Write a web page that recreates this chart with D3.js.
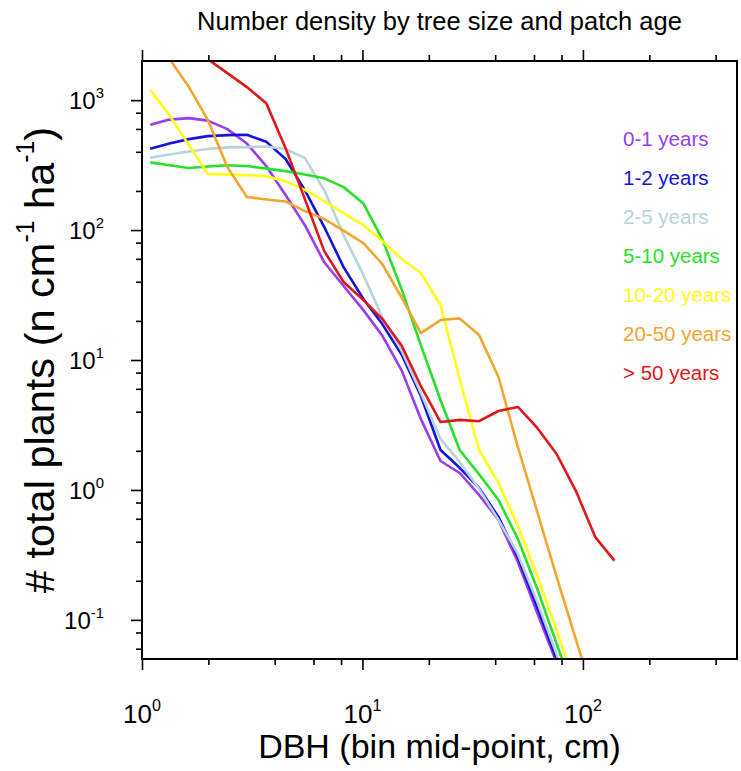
<!DOCTYPE html>
<html>
<head>
<meta charset="utf-8">
<script src="https://cdn.jsdelivr.net/npm/d3@7"></script>
<style>
  html, body { margin: 0; padding: 0; background: #fff; }
  svg { display: block; font-family: "Liberation Sans", Arial, Helvetica, sans-serif; }
</style>
</head>
<body>
<svg id="chart" width="741" height="771"></svg>
<script>
// DBH bin mid-points (cm)
const dbh = [1.09, 1.33, 1.63, 1.99, 2.44, 2.99, 3.66, 4.48, 5.48, 6.71, 8.21, 10.1, 12.3,
             15.1, 18.4, 22.6, 27.6, 33.8, 41.4, 50.7, 62.1, 76.0, 93.0, 114, 139];

// number density per patch-age class (n cm-1 ha-1)
const age0_1  = [646, 708, 727, 695, 598, 463, 311, 186, 109, 56.5, 37.1, 24.2, 15.4, 8.23, 3.52, 1.67, 1.35, 0.915, 0.588, 0.279, 0.113, 0.0467, null, null, null];
const age1_2  = [422, 463, 501, 528, 538, 541, 479, 352, 203, 105.5, 51.9, 29.5, 18.9, 10.9, 5.28, 2.03, 1.48, 1.036, 0.620, 0.305, 0.125, 0.050, null, null, null];
const age2_5  = [360, 382, 402, 420, 433, 435, 439, 420, 358, 203, 91.6, 45.1, 21.4, 11.7, 5.57, 2.47, 1.64, 1.02, 0.588, 0.322, 0.138, 0.0543, 0.0214, null, null];
const age5_10 = [332, 315, 300, 308, 315, 311, 297, 284, 268, 250, 214, 160, 85.3, 34.5, 13.0, 4.92, 2.03, 1.32, 0.838, 0.420, 0.173, 0.0654, 0.0247, null, null];
const age10_20 = [1194, 767, 451, 270, 267, 264, 260, 238, 204, 167, 135, 109, 82.3, 59.8, 46.7, 26.5, 7.14, 2.03, 1.13, 0.529, 0.218, 0.083, 0.0316, null, null];
const age20_50 = [3516, 2085, 1265, 702, 305, 179.5, 172, 166, 140, 121.5, 99.1, 79.4, 54.8, 30, 16.1, 20.3, 20.9, 15.6, 7.40, 2.14, 0.677, 0.214, 0.0704, 0.0234, null];
const age50p  = [null, null, 2698, 2066, 1614, 1259, 948, 427, 173, 68.9, 39.8, 28.9, 20.7, 12.8, 6.31, 3.33, 3.46, 3.38, 4.05, 4.35, 3.0, 1.89, 0.98, 0.431, 0.286];

const seriesNames = ["0-1 years", "1-2 years", "2-5 years", "5-10 years", "10-20 years", "20-50 years", "> 50 years"];
const seriesValues = [age0_1, age1_2, age2_5, age5_10, age10_20, age20_50, age50p];
const seriesColors = ["#9a3cf0", "#1414dc", "#b6d4dc", "#28e028", "#ffff14", "#f2a62e", "#e01818"];

const xMajor = [1, 10, 100];
const xMinor = [2, 4, 6, 8, 20, 40, 60, 80, 200, 400];
const yMajor = [0.1, 1, 10, 100, 1000];
const yMinor = [0.06, 0.08, 0.2, 0.4, 0.6, 0.8, 2, 4, 6, 8, 20, 40, 60, 80, 200, 400, 600, 800];

const pL = 142, pR = 737, pT = 61, pB = 659;
const svg = d3.select("#chart");

const x = d3.scaleLog().domain([1, 500]).range([pL, pR]);
const y = d3.scaleLog().domain([0.05, 2000]).range([pB, pT]);

svg.append("defs").append("clipPath").attr("id", "plotclip")
  .append("rect").attr("x", pL).attr("y", pT).attr("width", pR - pL).attr("height", pB - pT);

// lines
const line = d3.line()
  .defined(d => d[1] != null)
  .x(d => x(d[0]))
  .y(d => y(d[1]));

const gLines = svg.append("g").attr("clip-path", "url(#plotclip)");
seriesValues.forEach((vals, i) => {
  gLines.append("path")
    .datum(dbh.map((d, j) => [d, vals[j]]))
    .attr("fill", "none")
    .attr("stroke", seriesColors[i])
    .attr("stroke-width", 2.6)
    .attr("stroke-linejoin", "round")
    .attr("d", line);
});

// axes
function styleAxis(g) {
  g.select(".domain").remove();
  g.selectAll(".tick line").attr("stroke", "#000").attr("stroke-width", 1.6);
  g.selectAll(".tick text").remove();
}
svg.append("g").attr("transform", `translate(0,${pB})`)
  .call(d3.axisBottom(x).tickValues(xMajor).tickSize(11).tickFormat("")).call(styleAxis);
svg.append("g").attr("transform", `translate(0,${pB})`)
  .call(d3.axisBottom(x).tickValues(xMinor).tickSize(6).tickFormat("")).call(styleAxis);
svg.append("g").attr("transform", `translate(0,${pT})`)
  .call(d3.axisTop(x).tickValues(xMajor).tickSize(11).tickFormat("")).call(styleAxis);
svg.append("g").attr("transform", `translate(0,${pT})`)
  .call(d3.axisTop(x).tickValues(xMinor).tickSize(6).tickFormat("")).call(styleAxis);
svg.append("g").attr("transform", `translate(${pL},0)`)
  .call(d3.axisLeft(y).tickValues(yMajor).tickSize(11).tickFormat("")).call(styleAxis);
svg.append("g").attr("transform", `translate(${pL},0)`)
  .call(d3.axisLeft(y).tickValues(yMinor).tickSize(6).tickFormat("")).call(styleAxis);

// frame
svg.append("rect").attr("x", pL).attr("y", pT).attr("width", pR - pL).attr("height", pB - pT)
  .attr("fill", "none").attr("stroke", "#000").attr("stroke-width", 2);

// tick labels
function powLabel(sel, v) {
  const e = Math.round(Math.log10(v));
  sel.append("tspan").text("10");
  sel.append("tspan").attr("font-size", "0.62em").attr("dy", "-0.75em").text(String(e));
}
xMajor.forEach(v => {
  const t = svg.append("text").attr("x", x(v)).attr("y", 723)
    .attr("text-anchor", "middle").attr("font-size", 26).attr("fill", "#000");
  powLabel(t, v);
});
yMajor.forEach(v => {
  const t = svg.append("text").attr("x", 104).attr("y", y(v) + 9)
    .attr("text-anchor", "end").attr("font-size", 24).attr("fill", "#000");
  powLabel(t, v);
});

// title
svg.append("text").attr("x", (pL + pR) / 2).attr("y", 30)
  .attr("text-anchor", "middle").attr("font-size", 25.5).attr("fill", "#000")
  .text("Number density by tree size and patch age");

// x label
svg.append("text").attr("x", (pL + pR) / 2).attr("y", 758)
  .attr("text-anchor", "middle").attr("font-size", 34).attr("fill", "#000")
  .text("DBH (bin mid-point, cm)");

// y label
const yl = svg.append("text")
  .attr("transform", `translate(54,${(pT + pB) / 2}) rotate(-90)`)
  .attr("text-anchor", "middle").attr("font-size", 41.5).attr("fill", "#000");
yl.append("tspan").text("# total plants (n cm");
yl.append("tspan").attr("font-size", "0.6em").attr("dy", "-0.8em").text("-1");
yl.append("tspan").attr("dy", "0.48em").text(" ha");
yl.append("tspan").attr("font-size", "0.6em").attr("dy", "-0.8em").text("-1");
yl.append("tspan").attr("dy", "0.48em").text(")");

// legend
seriesNames.forEach((name, i) => {
  svg.append("text").attr("x", 623).attr("y", 146 + i * 39)
    .attr("font-size", 20.5).attr("fill", seriesColors[i]).text(name);
});
</script>
</body>
</html>
